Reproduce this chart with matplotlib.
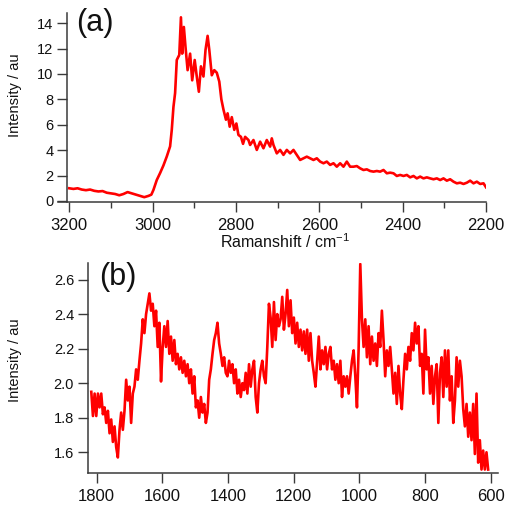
import matplotlib
matplotlib.use('Agg')
import matplotlib.pyplot as plt
import numpy as np
from matplotlib.ticker import MultipleLocator, FormatStrFormatter

plt.rcParams['font.family'] = ['Liberation Sans', 'DejaVu Sans']
plt.rcParams['mathtext.fontset'] = 'custom'
plt.rcParams['mathtext.rm'] = 'Liberation Sans'
plt.rcParams['mathtext.it'] = 'Liberation Sans:italic'

# ---------------- panel (a): C-H stretching region ----------------
top_x = [3200, 3190, 3180, 3170, 3160, 3150, 3140, 3130, 3120, 3110,
         3100, 3090, 3080, 3070, 3060, 3050, 3040, 3030, 3020, 3010, 3003,
         2998, 2990, 2982, 2974, 2966, 2958, 2954, 2950, 2946, 2942,
         2936, 2932, 2929, 2925, 2921, 2916, 2910, 2905, 2899, 2894,
         2889, 2884, 2878, 2873, 2868, 2864, 2858, 2852, 2846, 2840,
         2835, 2830, 2824, 2820, 2815, 2810, 2804, 2799, 2794, 2788,
         2783, 2778, 2770,
         2766, 2758, 2750, 2742, 2734, 2726, 2718, 2714, 2710, 2702,
         2694, 2686, 2678, 2670, 2662, 2654, 2646, 2638, 2630, 2622,
         2614, 2606, 2598, 2590, 2582, 2574, 2566, 2558, 2550, 2542,
         2534, 2526, 2518, 2510, 2502, 2494, 2486, 2478, 2470, 2462,
         2454, 2446, 2438, 2430, 2422, 2414, 2406, 2398, 2390, 2382,
         2374, 2366, 2358, 2350, 2342, 2334, 2326, 2318, 2310, 2302,
         2294, 2286, 2278, 2270, 2262, 2254, 2246, 2238, 2230, 2222,
         2214, 2206, 2200]
top_y = [1.0, 0.95, 1.0, 0.9, 0.85, 0.9, 0.8, 0.75, 0.78, 0.65,
         0.6, 0.55, 0.45, 0.55, 0.7, 0.6, 0.5, 0.4, 0.3, 0.4, 0.5,
         0.87, 1.65, 2.2, 2.8, 3.5, 4.3, 5.6, 7.4, 8.5, 11.1,
         11.5, 14.46, 11.6, 13.7, 12.1, 10.3, 11.6, 9.5, 11.1, 9.8,
         8.6, 10.6, 9.8, 11.9, 13.0, 11.9, 9.9, 10.3, 10.1, 9.4,
         8.0, 7.2, 6.4, 6.9, 5.85, 6.6, 5.6, 6.1, 5.2, 5.05,
         4.5, 5.05, 4.8,
         4.41, 4.8, 4.02, 4.67, 4.15, 4.8, 4.28, 4.93, 4.41, 3.75,
         4.02, 3.63, 4.02, 3.75, 4.02, 3.63, 3.23, 3.36, 3.49, 3.36,
         3.23, 3.36, 3.1, 2.97, 3.1, 2.84, 2.97, 2.7, 2.97, 2.7,
         3.1, 2.7, 2.7, 2.75, 2.57, 2.44, 2.49, 2.36, 2.31, 2.36,
         2.31, 2.44, 2.18, 2.23, 2.18, 1.97, 2.05, 1.97, 2.05, 1.86,
         1.97, 1.78, 1.92, 1.78, 1.86, 1.78, 1.71, 1.78, 1.65, 1.78,
         1.6, 1.71, 1.52, 1.39, 1.44, 1.34, 1.44, 1.6, 1.39, 1.52,
         1.34, 1.39, 1.08]

top_xticks = [3200, 3000, 2800, 2600, 2400, 2200]
top_yticks = [0, 2, 4, 6, 8, 10, 12, 14]

# ---------------- panel (b): fingerprint region ----------------
bot_start, bot_end = 1816, 608
bot_y = [1.95, 1.81, 1.94, 1.81, 1.94, 1.86, 1.94, 1.82, 1.86, 1.77,
         1.84, 1.71, 1.79, 1.66, 1.75, 1.63, 1.57, 1.73, 1.83, 1.73,
         1.84, 2.02, 1.90, 1.98, 1.77, 1.94, 1.98, 2.08, 2.02, 2.13,
         2.23, 2.37, 2.29, 2.40, 2.46, 2.52, 2.42, 2.46, 2.33, 2.42,
         2.21, 2.35, 2.01, 2.21, 2.33, 2.21, 2.36, 2.17, 2.27, 2.13,
         2.25, 2.11, 2.17, 2.08, 2.15, 2.06, 2.13, 2.04, 2.11, 2.00,
         2.08, 1.94, 2.04, 1.86, 1.90, 1.80, 1.92, 1.83, 1.88, 1.77,
         1.83, 2.02, 2.08, 2.17, 2.25, 2.29, 2.35, 2.23, 2.17, 2.10,
         2.15, 2.06,
         2.04, 2.13, 2.06, 2.11, 2.00, 2.08, 1.94, 2.02, 1.92, 2.00,
         1.96, 2.06, 1.94, 2.11, 1.98, 2.08, 2.13, 1.92, 1.83, 2.00,
         2.08, 2.13, 2.04, 2.00, 2.21, 2.46, 2.38, 2.21, 2.47, 2.25,
         2.40, 2.33, 2.37, 2.50, 2.31, 2.40, 2.54, 2.33, 2.48, 2.29,
         2.38, 2.23, 2.35, 2.21, 2.31, 2.19, 2.30, 2.17, 2.31, 2.13,
         2.29, 2.13, 2.06, 1.98, 2.13, 2.27, 2.08, 2.19, 2.11, 2.21,
         2.08, 2.17, 2.21, 2.08, 2.13, 2.02, 2.11, 2.00, 2.13, 1.92,
         2.04, 1.98, 2.04, 1.94, 2.04, 2.13, 2.19, 2.04, 1.86, 2.20,
         2.69, 2.37, 2.21, 2.37, 2.15, 2.33, 2.11, 2.27, 2.13, 2.23,
         2.10, 2.29, 2.21, 2.42, 2.25, 2.04, 2.19, 2.10, 2.21, 2.08,
         1.94, 2.06, 1.88, 2.10, 1.94, 1.85, 2.02, 2.17, 2.08, 2.21,
         2.13, 2.29, 2.19, 2.35, 2.23, 2.33, 2.10, 2.17, 1.94, 2.31,
         2.08, 2.15, 1.94, 2.10, 1.88, 2.04, 2.11, 1.77, 2.06, 2.15,
         1.92, 2.19, 1.98, 2.19, 1.90, 2.04, 1.77, 1.90, 2.15, 1.98,
         2.13, 2.04, 1.85, 1.75, 1.88, 1.69, 1.83, 1.67, 1.88, 1.59,
         1.94, 1.54, 1.67, 1.50, 1.61, 1.50, 1.60, 1.50]
bot_x = np.linspace(bot_start, bot_end, len(bot_y))

bot_xticks = [1800, 1600, 1400, 1200, 1000, 800, 600]
bot_yticks = [1.6, 1.8, 2.0, 2.2, 2.4, 2.6]

RED = '#ff0000'
AX = '#3a3a3a'
TXT = '#111111'
W, H = 514, 507

fig = plt.figure(figsize=(W / 100, H / 100), dpi=100)


def style(ax):
    for s in ('top', 'right'):
        ax.spines[s].set_visible(False)
    for s in ('left', 'bottom'):
        ax.spines[s].set_color(AX)
        ax.spines[s].set_linewidth(1.1)
    ax.tick_params(which='major', direction='out', length=7, width=1.0,
                   color=AX, labelcolor=TXT)
    ax.tick_params(which='minor', direction='out', length=4, width=1.0,
                   color=AX)
    ax.tick_params(axis='x', which='major', pad=4.5, labelsize=12)
    ax.tick_params(axis='y', which='major', pad=3, labelsize=10.5)


# panel (a)
axA = fig.add_axes([58 / W, 1 - 202 / H, 428 / W, 189 / H])
axA.plot(top_x, top_y, color=RED, lw=1.9)
axA.set_xlim(3227, 2200)
axA.set_ylim(-0.08, 14.8)
axA.spines['left'].set_position(('data', 3205))
axA.set_xticks(top_xticks)
axA.xaxis.set_minor_locator(MultipleLocator(100))
axA.set_yticks(top_yticks)
style(axA)
axA.set_ylabel('Intensity / au', fontsize=10.5, color=TXT)
axA.yaxis.set_label_coords(-0.085, 0.566)
axA.set_xlabel('Ramanshift / cm$^{-1}$', fontsize=11.5, color=TXT)
axA.xaxis.set_label_coords(0.53, -0.16)
fig.text(76 / W, 1 - 8 / H, '(a)', fontsize=22, va='top', ha='left',
         color='#111111')

# panel (b)
axB = fig.add_axes([88 / W, 1 - 473 / H, 410 / W, 210 / H])
axB.plot(bot_x, bot_y, color=RED, lw=1.9)
axB.set_xlim(1826, 578)
axB.set_ylim(1.48, 2.696)
axB.set_xticks(bot_xticks)
axB.set_yticks(bot_yticks)
axB.yaxis.set_major_formatter(FormatStrFormatter('%.1f'))
style(axB)
axB.set_ylabel('Intensity / au', fontsize=10.5, color=TXT)
axB.yaxis.set_label_coords(-0.162, 0.538)
fig.text(99 / W, 1 - 262 / H, '(b)', fontsize=22, va='top', ha='left',
         color='#111111')

fig.savefig('out.png', dpi=100)
